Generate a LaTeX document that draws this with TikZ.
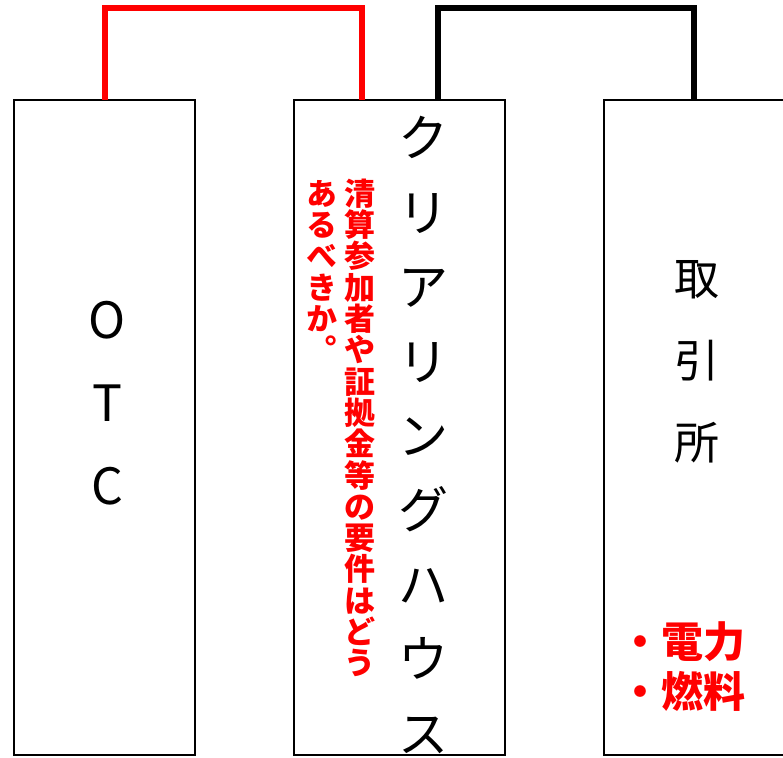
\documentclass[tikz,border=0pt]{standalone}
\usepackage{fontspec}
\setmainfont{Noto Sans CJK JP}
\begin{document}
\begin{tikzpicture}[x=1pt,y=-1pt,
  panel/.style={draw=black,line width=1.3pt},
  bracketred/.style={draw=red,line width=5.5pt},
  bracketblack/.style={draw=black,line width=5.5pt},
  bigtext/.style={inner sep=0pt,align=center,text=black},
  redtext/.style={inner sep=0pt,align=center,text=red,font=\bfseries}]
\useasboundingbox (0,0) rectangle (783,757);
\begin{scope}
\clip (0,0) rectangle (783,757);
% boxes
\draw[panel] (14,100) rectangle (195,755);
\draw[panel] (294,100) rectangle (505,755);
\draw[panel] (604,100) rectangle (800,755);
\coordinate (otcT) at (105,100);
\coordinate (chT1) at (362,100);
\coordinate (chT2) at (438,100);
\coordinate (exT) at (694,100);
\draw[bracketred] (otcT) -- (105,8) -- (362,8) -- (chT1);
\draw[bracketblack] (chT2) -- (438,8) -- (694,8) -- (exT);
\end{scope}
% texts
\node[bigtext,font={\fontsize{50}{83}\selectfont}] (otc) at (107,403) {O\\T\\C};
\node[bigtext,font={\fontsize{50}{74.4}\selectfont}] (ch) at (423,435) {ク\\リ\\ア\\リ\\ン\\グ\\ハ\\ウ\\ス};
\node[redtext,font={\bfseries\fontsize{31}{31.3}\selectfont}] (q1) at (360,428) {清\\算\\参\\加\\者\\や\\証\\拠\\金\\等\\の\\要\\件\\は\\ど\\う};
\node[redtext,font={\bfseries\fontsize{31}{31.3}\selectfont\addfontfeature{RawFeature=+vert}}] (q2) at (322,271) {あ\\る\\べ\\き\\か\\。};
\node[bigtext,font={\fontsize{45}{82}\selectfont}] (ex) at (697,362) {取\\引\\所};
\node[redtext,align=left,anchor=west,font={\bfseries\fontsize{42}{50}\selectfont}] (items) at (619,667) {・電力\\・燃料};
\end{tikzpicture}
\end{document}
